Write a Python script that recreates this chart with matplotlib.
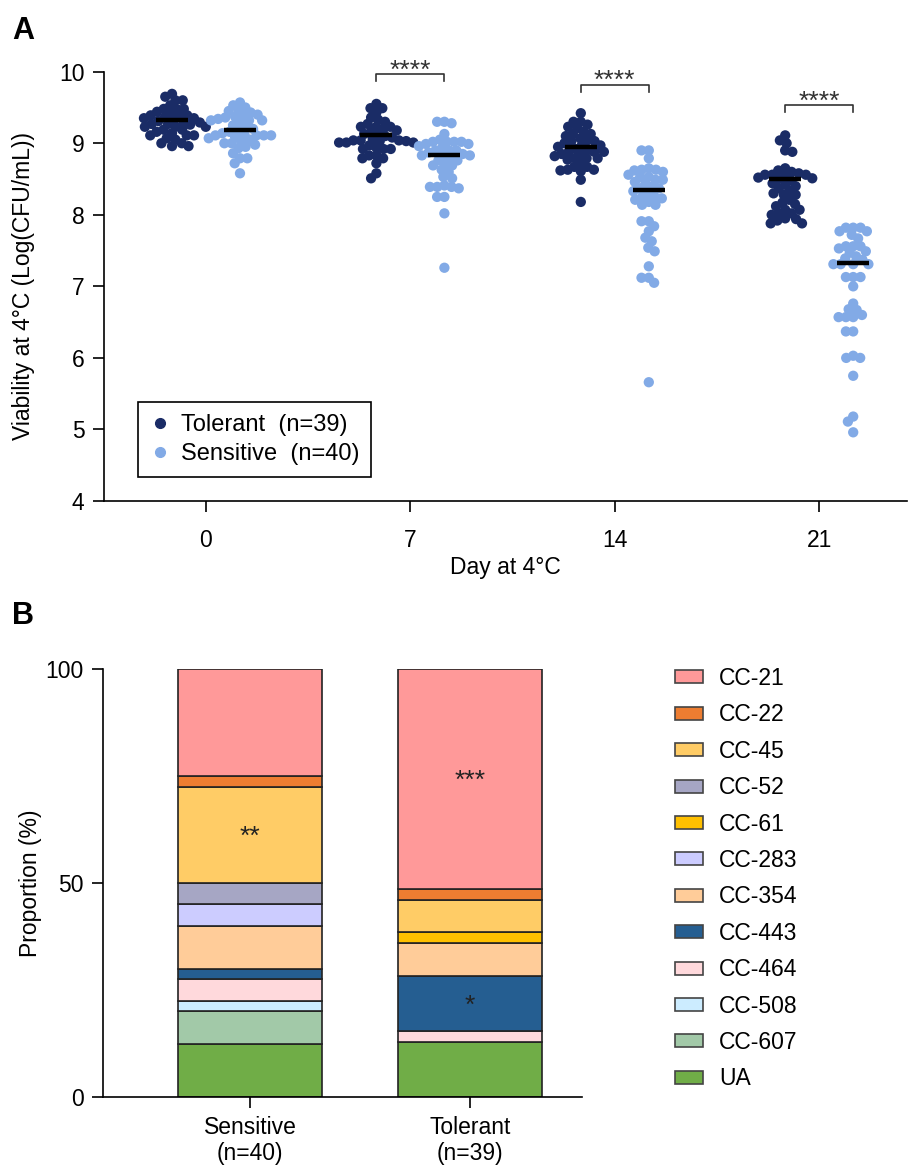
import numpy as np
import matplotlib
matplotlib.use('Agg')
import matplotlib.pyplot as plt
from matplotlib.patches import Patch
from matplotlib.lines import Line2D

plt.rcParams['font.family'] = ['Liberation Sans', 'DejaVu Sans']

# ---------------- Panel A data ----------------
days = ['0', '7', '14', '21']

tolerant_d0 = [9.69, 9.65, 9.60, 9.60, 9.53, 9.48, 9.48, 9.48, 9.44, 9.42, 9.39, 9.39, 9.39,
               9.36, 9.35, 9.35, 9.33, 9.31, 9.30, 9.29, 9.27, 9.27, 9.26, 9.23, 9.23, 9.23,
               9.19, 9.19, 9.16, 9.14, 9.11, 9.11, 9.11, 9.07, 9.05, 9.00, 9.00, 8.96, 8.96]
sensitive_d0 = [9.57, 9.53, 9.50, 9.46, 9.45, 9.43, 9.40, 9.38, 9.37, 9.36, 9.34, 9.32, 9.32,
                9.32, 9.28, 9.25, 9.22, 9.20, 9.18, 9.16, 9.14, 9.12, 9.11, 9.11, 9.11, 9.11,
                9.09, 9.07, 9.05, 9.03, 9.00, 9.00, 8.98, 8.95, 8.93, 8.86, 8.79, 8.79, 8.72, 8.58]
tolerant_d7 = [9.55, 9.49, 9.49, 9.43, 9.36, 9.33, 9.30, 9.27, 9.23, 9.23, 9.23, 9.20, 9.18,
               9.16, 9.13, 9.13, 9.10, 9.08, 9.06, 9.04, 9.04, 9.04, 9.03, 9.03, 9.01, 9.01,
               9.01, 8.97, 8.94, 8.92, 8.92, 8.92, 8.83, 8.83, 8.79, 8.79, 8.72, 8.58, 8.51]
sensitive_d7 = [9.30, 9.30, 9.28, 9.13, 9.05, 9.02, 9.02, 9.02, 9.02, 8.99, 8.99, 8.96, 8.94,
                8.90, 8.90, 8.90, 8.87, 8.85, 8.83, 8.83, 8.83, 8.80, 8.76, 8.76, 8.72, 8.69,
                8.69, 8.63, 8.60, 8.53, 8.51, 8.41, 8.39, 8.39, 8.39, 8.37, 8.25, 8.25, 8.02, 7.26]
tolerant_d14 = [9.42, 9.30, 9.30, 9.26, 9.23, 9.21, 9.16, 9.13, 9.13, 9.10, 9.07, 9.04, 9.03,
                9.03, 9.00, 8.97, 8.97, 8.95, 8.92, 8.90, 8.88, 8.88, 8.88, 8.85, 8.85, 8.82,
                8.79, 8.79, 8.79, 8.77, 8.72, 8.67, 8.67, 8.63, 8.63, 8.62, 8.61, 8.49, 8.18]
sensitive_d14 = [8.90, 8.90, 8.79, 8.65, 8.63, 8.63, 8.62, 8.60, 8.56, 8.53, 8.53, 8.49, 8.49,
                 8.46, 8.44, 8.39, 8.37, 8.37, 8.33, 8.30, 8.25, 8.25, 8.23, 8.21, 8.18, 8.14,
                 8.14, 7.91, 7.91, 7.84, 7.77, 7.68, 7.63, 7.54, 7.49, 7.28, 7.12, 7.12, 7.05, 5.66]
tolerant_d21 = [9.11, 9.04, 9.00, 8.90, 8.88, 8.65, 8.62, 8.60, 8.58, 8.56, 8.56, 8.56, 8.54,
                8.52, 8.51, 8.50, 8.48, 8.44, 8.42, 8.40, 8.37, 8.34, 8.30, 8.28, 8.28, 8.21,
                8.17, 8.15, 8.12, 8.07, 8.07, 8.02, 8.02, 8.00, 7.95, 7.94, 7.92, 7.88, 7.88]
sensitive_d21 = [7.82, 7.82, 7.82, 7.77, 7.77, 7.72, 7.67, 7.56, 7.56, 7.56, 7.53, 7.49, 7.47,
                 7.42, 7.39, 7.37, 7.31, 7.31, 7.31, 7.31, 7.13, 7.13, 7.13, 7.00, 6.76, 6.68,
                 6.67, 6.60, 6.57, 6.57, 6.57, 6.37, 6.37, 6.03, 6.00, 6.00, 5.75, 5.18, 5.11, 4.96]

tolerant_medians = [9.32, 9.12, 8.95, 8.50]
sensitive_medians = [9.19, 8.84, 8.35, 7.32]
significance = ['', '****', '****', '****']
bracket_tops = [None, 9.97, 9.82, 9.53]

tolerant_data = [tolerant_d0, tolerant_d7, tolerant_d14, tolerant_d21]
sensitive_data = [sensitive_d0, sensitive_d7, sensitive_d14, sensitive_d21]

# ---------------- Panel B data ----------------
clonal_complexes = ['CC-21', 'CC-22', 'CC-45', 'CC-52', 'CC-61', 'CC-283', 'CC-354',
                    'CC-443', 'CC-464', 'CC-508', 'CC-607', 'UA']
cc_colors = ['#FF9999', '#ED7D31', '#FFCC66', '#A6A6C4', '#FFC000', '#CCCCFF', '#FFCC99',
             '#255E91', '#FFD9DC', '#CCECFF', '#A2C9A8', '#70AD47']
bar_groups = ['Sensitive\n(n=40)', 'Tolerant\n(n=39)']
sensitive_pct = [25.0, 2.5, 22.5, 5.0, 0.0, 5.0, 10.0, 2.5, 5.0, 2.5, 7.5, 12.5]
tolerant_pct = [51.28, 2.56, 7.69, 0.0, 2.56, 0.0, 7.69, 12.82, 2.56, 0.0, 0.0, 12.82]
annot_group = [0, 1, 1]
annot_cc = ['CC-45', 'CC-21', 'CC-443']
annot_text = ['**', '***', '*']

TOL_COLOR = '#1A2C66'
SEN_COLOR = '#82AAE6'

W, H = 911, 1166
fig = plt.figure(figsize=(W / 100, H / 100), dpi=100)

def fx(px):
    return px / W

def fy(py):
    return 1 - py / H

FS = 16.5

# ---------------- Panel A ----------------
axA_l, axA_r, axA_t, axA_b = 104, 907, 71.7, 501
axA = fig.add_axes([fx(axA_l), fy(axA_b), fx(axA_r - axA_l), (axA_b - axA_t) / H])
xpx_per_unit = 204.4
xlimA = (-(206 - axA_l) / xpx_per_unit, (axA_r - 206) / xpx_per_unit)
axA.set_xlim(*xlimA)
axA.set_ylim(4, 10)
ypx_per_unit = (axA_b - axA_t) / 6.0


def swarm_offsets(values, d_px):
    ys = np.asarray(values, dtype=float) * ypx_per_unit
    order = np.argsort(-ys, kind='stable')
    placed = []
    xs = np.zeros(len(ys))
    for i in order:
        y = ys[i]
        neigh = [(px, py) for px, py in placed if abs(py - y) < d_px]
        cands = [0.0]
        for px, py in neigh:
            dx = np.sqrt(d_px ** 2 - (py - y) ** 2)
            cands += [px + dx, px - dx]
        cands.sort(key=lambda c: (abs(c), c))
        for c in cands:
            if all((c - px) ** 2 + (y - py) ** 2 >= d_px ** 2 - 1e-6 for px, py in neigh):
                xs[i] = c
                break
        placed.append((xs[i], y))
    return xs / xpx_per_unit


offset = 34 / xpx_per_unit
half_med = 16 / xpx_per_unit
for i in range(len(days)):
    for data, med, sign, col in [(tolerant_data[i], tolerant_medians[i], -1, TOL_COLOR),
                                 (sensitive_data[i], sensitive_medians[i], 1, SEN_COLOR)]:
        c = i + sign * offset
        xo = swarm_offsets(data, 7.3)
        axA.scatter(c + xo, data, s=55, color=col, edgecolors='none', zorder=3, clip_on=False)
        axA.plot([c - half_med, c + half_med], [med, med], color='black', lw=3.2,
                 solid_capstyle='butt', zorder=4)
    if significance[i]:
        top = bracket_tops[i]
        leg = 0.1
        xl, xr = i - offset, i + offset
        axA.plot([xl, xl, xr, xr], [top - leg, top, top, top - leg], color='#333333', lw=1.2,
                 clip_on=False, zorder=5)
        axA.text(i, top - 0.12, significance[i], ha='center', va='bottom', fontsize=19,
                 color='#333333', clip_on=False)

axA.set_xticks(range(len(days)))
axA.set_xticklabels(days)
axA.set_yticks(range(4, 11))
axA.tick_params(axis='both', labelsize=FS, length=8, width=1.2, direction='out', pad=6)
axA.tick_params(axis='x', pad=12)
for s in ['top', 'right']:
    axA.spines[s].set_visible(False)
for s in ['left', 'bottom']:
    axA.spines[s].set_linewidth(1.2)
axA.set_xlabel('Day at 4°C', fontsize=FS, labelpad=3)
axA.set_ylabel('Viability at 4°C (Log(CFU/mL))', fontsize=FS)
axA.yaxis.set_label_coords((35 - axA_l) / (axA_r - axA_l), 0.5)

handles = [Line2D([], [], marker='o', linestyle='none', color=TOL_COLOR, markersize=7),
           Line2D([], [], marker='o', linestyle='none', color=SEN_COLOR, markersize=7)]
legA = axA.legend(handles, ['Tolerant  (n=39)', 'Sensitive  (n=40)'], fontsize=17,
                  loc='lower left',
                  bbox_to_anchor=((138 - axA_l) / (axA_r - axA_l), (axA_b - 477) / (axA_b - axA_t)),
                  frameon=True, fancybox=False, edgecolor='black', framealpha=1,
                  handletextpad=0.42, labelspacing=0.3, borderpad=0.5, handlelength=0.9,
                  borderaxespad=0)
legA.get_frame().set_linewidth(1.2)

fig.text(fx(12), fy(39), 'A', fontsize=22, fontweight='bold', ha='left', va='baseline')

# ---------------- Panel B ----------------
axB_l, axB_r, axB_t, axB_b = 103, 582, 669, 1097
axB = fig.add_axes([fx(axB_l), fy(axB_b), fx(axB_r - axB_l), (axB_b - axB_t) / H])
bx_per_unit = 220.0
axB.set_xlim(-(250 - axB_l) / bx_per_unit, (axB_r - 250) / bx_per_unit)
axB.set_ylim(0, 100)

group_pcts = [sensitive_pct, tolerant_pct]
bar_w = 144 / bx_per_unit
seg_centers = {}
for g, pcts in enumerate(group_pcts):
    bottom = 0.0
    for k in range(len(clonal_complexes) - 1, -1, -1):
        h = pcts[k]
        if h <= 0:
            continue
        axB.bar(g, h, bottom=bottom, width=bar_w, color=cc_colors[k], edgecolor='#222222',
                linewidth=1.2, zorder=2)
        seg_centers[(g, clonal_complexes[k])] = bottom + h / 2
        bottom += h

for g, cc, t in zip(annot_group, annot_cc, annot_text):
    axB.text(g, seg_centers[(g, cc)] - 0.4, t, ha='center', va='center', fontsize=19,
             color='#222222', zorder=5)

axB.set_xticks(range(len(bar_groups)))
axB.set_xticklabels(bar_groups, linespacing=1.15)
axB.set_yticks([0, 50, 100])
axB.tick_params(axis='both', labelsize=FS, length=8, width=1.2, direction='out', pad=6)
for s in ['top', 'right']:
    axB.spines[s].set_visible(False)
for s in ['left', 'bottom']:
    axB.spines[s].set_linewidth(1.2)
axB.set_ylabel('Proportion (%)', fontsize=FS)
axB.yaxis.set_label_coords((42 - axB_l) / (axB_r - axB_l), 0.5)

leg_handles = [Patch(facecolor=c, edgecolor='#444444', linewidth=1.2) for c in cc_colors]
legB = fig.legend(leg_handles, clonal_complexes, fontsize=FS, loc='upper left',
                  bbox_to_anchor=(fx(675), fy(667)), frameon=False, borderpad=0,
                  borderaxespad=0, handlelength=1.2, handleheight=0.5,
                  handletextpad=0.72, labelspacing=0.585)

fig.text(fx(12), fy(624), 'B', fontsize=22, fontweight='bold', ha='left', va='baseline')

fig.savefig('out.png', dpi=100)
